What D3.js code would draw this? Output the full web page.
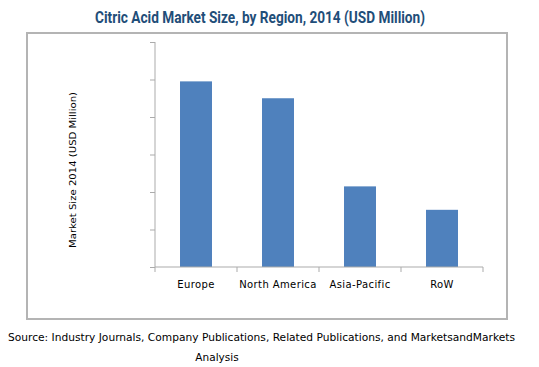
<!DOCTYPE html>
<html>
<head>
<meta charset="utf-8">
<script src="https://cdn.jsdelivr.net/npm/d3@7"></script>
<style>
  body { margin: 0; background: #fff; }
  svg { display: block; }
</style>
</head>
<body>
<svg id="chart" width="539" height="367"></svg>
<script>
// values (USD million, estimated)
var regions = ['Europe', 'North America', 'Asia-Pacific', 'RoW']
var marketSize = [990, 900, 430, 305]
var yTicks = [0, 200, 400, 600, 800, 1000, 1200]

var svg = d3.select('#chart')

var margin = { top: 42, left: 155 }
var plotW = 483 - margin.left
var plotH = 267 - margin.top

// outer frame
svg.append('rect')
  .attr('x', 27).attr('y', 33)
  .attr('width', 480).attr('height', 286)
  .attr('fill', 'none')
  .attr('stroke', '#b4b4b4')
  .attr('stroke-width', 2)

svg.append('text')
  .attr('x', 260).attr('y', 23)
  .attr('text-anchor', 'middle')
  .attr('font-family', '"Liberation Sans Narrow", "Roboto", sans-serif')
  .attr('font-weight', 'bold')
  .attr('font-size', 17)
  .attr('textLength', 330)
  .attr('lengthAdjust', 'spacingAndGlyphs')
  .attr('fill', '#1f4e79')
  .text('Citric Acid Market Size, by Region, 2014 (USD Million)')

var g = svg.append('g').attr('transform', `translate(${margin.left},${margin.top})`)

var x = d3.scaleBand()
  .domain(regions)
  .range([0, plotW])
  .paddingInner(0.61)
  .paddingOuter(0.305)

var y = d3.scaleLinear()
  .domain([0, 1200])
  .range([plotH, 0])

g.selectAll('rect.bar')
  .data(regions)
  .enter().append('rect')
    .attr('class', 'bar')
    .attr('x', function (d) { return x(d) })
    .attr('y', function (d, i) { return y(marketSize[i]) })
    .attr('width', x.bandwidth())
    .attr('height', function (d, i) { return plotH - y(marketSize[i]) })
    .attr('fill', '#4f81bd')

// y axis: ticks only, no labels
var yAxis = g.append('g')
  .call(d3.axisLeft(y).tickValues(yTicks).tickSize(5).tickFormat(''))
yAxis.select('.domain').attr('stroke', '#ababab').attr('d', `M0,0V${plotH}`)
yAxis.selectAll('.tick line').attr('stroke', '#ababab')

// x axis with ticks at band edges
var xAxis = g.append('g').attr('transform', `translate(0,${plotH})`)
xAxis.append('line')
  .attr('x1', 0).attr('x2', plotW)
  .attr('stroke', '#ababab')
var step = x.step()
xAxis.selectAll('line.tk')
  .data(d3.range(regions.length + 1))
  .enter().append('line')
    .attr('class', 'tk')
    .attr('x1', function (d) { return d * step }).attr('x2', function (d) { return d * step })
    .attr('y1', 0).attr('y2', 5)
    .attr('stroke', '#ababab')
xAxis.selectAll('text')
  .data(regions)
  .enter().append('text')
    .attr('x', function (d) { return x(d) + x.bandwidth() / 2 })
    .attr('y', 21)
    .attr('text-anchor', 'middle')
    .attr('font-family', '"DejaVu Sans", Verdana, sans-serif')
    .attr('font-size', 10)
    .attr('letter-spacing', 0.4)
    .attr('fill', '#000')
    .text(function (d) { return d })

svg.append('text')
  .attr('transform', 'translate(76,170) rotate(-90)')
  .attr('text-anchor', 'middle')
  .attr('font-family', '"DejaVu Sans", Verdana, sans-serif')
  .attr('font-size', 9.5)
  .attr('textLength', 156)
  .attr('lengthAdjust', 'spacingAndGlyphs')
  .attr('fill', '#000')
  .text('Market Size 2014 (USD Million)')

svg.append('text')
  .attr('x', 8).attr('y', 341)
  .attr('font-family', '"DejaVu Sans", Verdana, sans-serif')
  .attr('font-size', 10.5)
  .attr('textLength', 507)
  .attr('lengthAdjust', 'spacingAndGlyphs')
  .attr('fill', '#000')
  .text('Source: Industry Journals, Company Publications, Related Publications, and MarketsandMarkets')

svg.append('text')
  .attr('x', 217).attr('y', 361)
  .attr('text-anchor', 'middle')
  .attr('font-family', '"DejaVu Sans", Verdana, sans-serif')
  .attr('font-size', 10.5)
  .attr('fill', '#000')
  .text('Analysis')
</script>
</body>
</html>
